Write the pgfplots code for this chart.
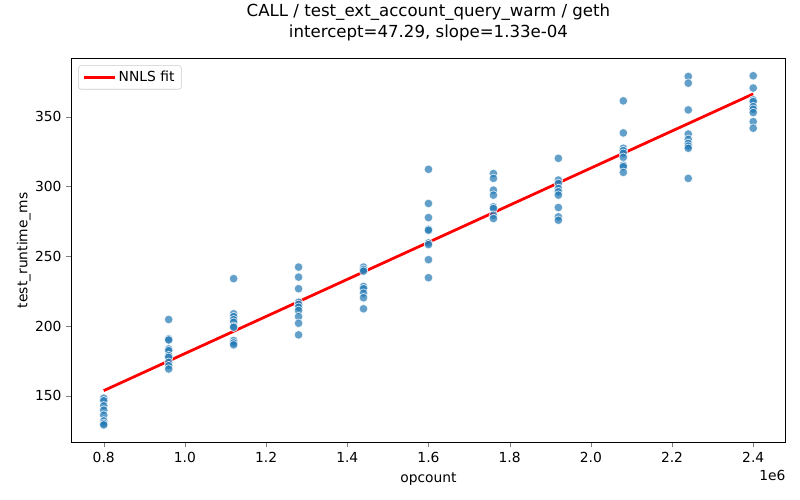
\documentclass[border=0pt]{standalone}
\usepackage{pgfplots}
\pgfplotsset{compat=1.18}
\usepackage{fontspec}
\setmainfont{DejaVu Sans}
\definecolor{tabblue}{HTML}{1F77B4}
\begin{document}
\begin{tikzpicture}
\path[use as bounding box] (-51.3bp,-41.5bp) rectangle (524.7bp,318.5bp);
\begin{axis}[
  name=main,
  at={(0,0)}, anchor=south west,
  scale only axis, width=514.4bp, height=276.5bp,
  xmin=0.72, xmax=2.48, ymin=116.6, ymax=392,
  xtick={0.8,1.0,1.2,1.4,1.6,1.8,2.0,2.2,2.4},
  xticklabels={0.8,1.0,1.2,1.4,1.6,1.8,2.0,2.2,2.4},
  ytick={150,200,250,300,350},
  tick pos=left, tick align=outside,
  major tick length=3.5bp,
  /pgf/number format/assume math mode=true,
  ticklabel style={font=\fontsize{10}{12}\selectfont},
  xlabel={opcount}, ylabel={test\_runtime\_ms},
  label style={font=\fontsize{10}{12}\selectfont},
  xlabel style={at={(0.5,0)}, anchor=north, yshift=-22bp, inner sep=0pt},
  ylabel style={at={(0,0.5)}, anchor=south, yshift=29bp, inner sep=0pt},
  title={CALL / test\_ext\_account\_query\_warm / geth\\intercept=47.29, slope=1.33e-04},
  title style={at={(0.5,1)}, anchor=south, yshift=6bp, inner sep=0pt, align=center,
    font=\fontsize{12}{15.5}\selectfont},
  axis line style={line width=0.6bp},
  legend style={at={(0,1)}, anchor=north west, xshift=5bp, yshift=-5bp,
    draw=black!20, rounded corners=2pt, fill=white, fill opacity=0.8, text opacity=1,
    font=\fontsize{10}{12}\selectfont, inner xsep=3bp, inner ysep=2bp},
  legend image code/.code={\draw[#1] (0bp,0bp) -- (22bp,0bp);},
]
\addplot[only marks, mark=*, mark size=3.1bp,
  mark options={fill=tabblue, fill opacity=0.7, draw=white, draw opacity=0.8, line width=0.5bp},
  forget plot] table {
x y
0.8 148.3
0.8 146.4
0.8 142.8
0.8 139.7
0.8 136.1
0.8 132.0
0.8 130.1
0.8 129.1
0.96 204.7
0.96 190.8
0.96 190.0
0.96 183.6
0.96 182.4
0.96 178.8
0.96 177.6
0.96 174.0
0.96 171.6
0.96 169.2
1.12 234.0
1.12 208.8
1.12 206.8
1.12 204.5
1.12 202.7
1.12 199.9
1.12 199.1
1.12 189.6
1.12 187.9
1.12 186.5
1.28 242.3
1.28 235.1
1.28 226.8
1.28 217.1
1.28 215.5
1.28 213.5
1.28 211.2
1.28 206.8
1.28 202.0
1.28 193.7
1.44 242.3
1.44 240.6
1.44 239.4
1.44 228.4
1.44 226.8
1.44 223.6
1.44 220.3
1.44 212.4
1.60 312.4
1.60 287.9
1.60 277.8
1.60 269.4
1.60 268.7
1.60 259.6
1.60 258.4
1.60 247.6
1.60 234.7
1.76 309.4
1.76 305.9
1.76 297.5
1.76 293.9
1.76 285.5
1.76 284.3
1.76 279.5
1.76 277.1
1.92 320.3
1.92 304.7
1.92 302.3
1.92 298.7
1.92 296.3
1.92 293.9
1.92 285.0
1.92 278.3
1.92 275.9
2.08 361.5
2.08 338.5
2.08 327.5
2.08 325.8
2.08 323.9
2.08 321.0
2.08 315.3
2.08 314.3
2.08 310.2
2.24 379.0
2.24 374.2
2.24 355.0
2.24 337.7
2.24 333.9
2.24 331.0
2.24 329.1
2.24 327.5
2.24 305.9
2.40 379.5
2.40 370.7
2.40 362.2
2.40 361.0
2.40 357.4
2.40 355.5
2.40 353.1
2.40 346.6
2.40 341.9
};
\addplot[red, line width=2bp] coordinates {(0.8,153.69) (2.4,366.49)};
\addlegendentry{NNLS fit}
\end{axis}
\node[anchor=north east, inner sep=0pt, font=\fontsize{10}{12}\selectfont] at ([yshift=-20bp]main.south east) {1e6};
\end{tikzpicture}
\end{document}
